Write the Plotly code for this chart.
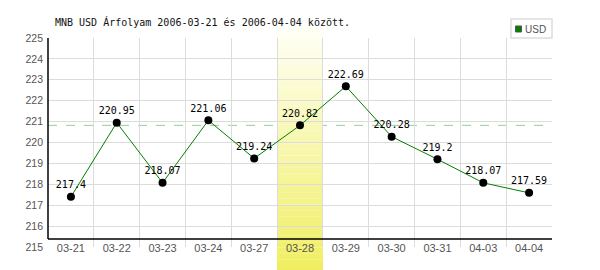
import plotly.graph_objects as go

dates = ["03-21", "03-22", "03-23", "03-24", "03-27", "03-28",
         "03-29", "03-30", "03-31", "04-03", "04-04"]
usd = [217.4, 220.95, 218.07, 221.06, 219.24, 220.82,
       222.69, 220.28, 219.2, 218.07, 217.59]
highlight_idx = 5
y_min, y_max = 215, 225
axis_level = 215.38
title_text = "MNB USD Árfolyam 2006-03-21 és 2006-04-04 között."
series_name = "USD"

mono = "DejaVu Sans Mono"
sans = "Liberation Sans, Arial, sans-serif"

# pixel -> paper helpers (plot area: x 48..552, y 38.5..247)
def px(x):
    return (x - 48) / 504.0

def py(y):
    return (247 - y) / 208.5

fig = go.Figure()
fig.add_trace(go.Scatter(
    x=dates, y=usd, mode="lines+markers+text",
    text=[f"{v:g}" for v in usd], textposition="top center",
    textfont=dict(family=mono, size=10, color="#000"),
    line=dict(color="#008000", width=1),
    marker=dict(color="#000", size=8),
    showlegend=False, cliponaxis=False,
))

shapes = []
shapes.append(dict(type="line", xref="paper", yref="y", x0=0, x1=1,
                   y0=usd[highlight_idx], y1=usd[highlight_idx],
                   line=dict(color="#9ccc9c", width=1, dash="dash"), layer="between"))
n = 40
top, bot = py(27), py(272)
c_top = (255, 255, 246)
c_bot = (240, 238, 96)
for i in range(n):
    f = i / (n - 1)
    col = tuple(int(round(c_top[k] + (c_bot[k] - c_top[k]) * f)) for k in range(3))
    y0 = top + (bot - top) * i / n
    y1 = top + (bot - top) * (i + 1) / n
    shapes.append(dict(type="rect", xref="x", yref="paper",
                       x0=highlight_idx - 0.5, x1=highlight_idx + 0.5,
                       y0=y1, y1=y0, line=dict(width=0),
                       fillcolor="rgb(%d,%d,%d)" % col, layer="between"))
shapes.append(dict(type="line", xref="paper", yref="y", x0=0, x1=1,
                   y0=axis_level, y1=axis_level, line=dict(color="#000", width=1.5)))
shapes.append(dict(type="line", xref="paper", yref="y", x0=0, x1=0,
                   y0=axis_level, y1=y_max, line=dict(color="#000", width=1.5)))
shapes.append(dict(type="rect", xref="paper", yref="paper", x0=px(511), x1=px(552),
                   y0=py(38.5), y1=py(19.5), line=dict(color="#dddddd", width=1.5),
                   fillcolor="white"))
shapes.append(dict(type="rect", xref="paper", yref="paper", x0=px(515.5), x1=px(521.5),
                   y0=py(32.5), y1=py(26.5), line=dict(color="#555", width=1),
                   fillcolor="#008000"))

fig.update_layout(
    width=600, height=270,
    margin=dict(l=48, r=48, t=38, b=23),
    paper_bgcolor="white", plot_bgcolor="white",
    shapes=shapes,
    annotations=[
        dict(text=title_text, xref="paper", yref="paper", x=px(53), y=py(23),
             xanchor="left", yanchor="middle", showarrow=False,
             font=dict(family=mono, size=10, color="#111")),
        dict(text=series_name, xref="paper", yref="paper", x=px(523), y=py(30),
             xanchor="left", yanchor="middle", showarrow=False,
             font=dict(family=sans, size=10, color="#555")),
    ],
    xaxis=dict(type="category", tickson="boundaries", showgrid=True, gridcolor="#dcdcdc",
               gridwidth=1, ticks="", showline=False, zeroline=False,
               tickfont=dict(family=sans, size=11, color="#555"),
               ticklabelstandoff=-7, range=[-0.5, len(dates) - 0.5]),
    yaxis=dict(range=[y_min, y_max], dtick=1, showgrid=True, gridcolor="#dcdcdc",
               gridwidth=1, ticks="", showline=False, zeroline=False,
               tickfont=dict(family=sans, size=10.5, color="#555"),
               ticklabelstandoff=4),
)

fig.write_html("out.html")
